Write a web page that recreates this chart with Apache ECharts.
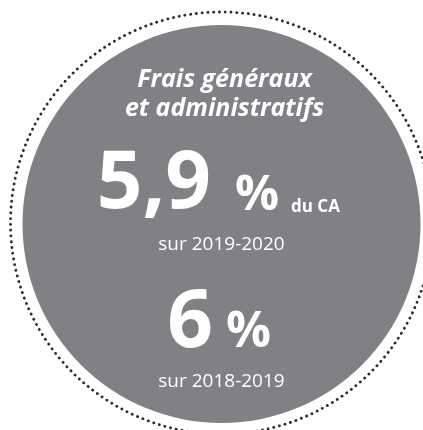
<!DOCTYPE html>
<html>
<head>
<meta charset="utf-8">
<script src="https://cdn.jsdelivr.net/npm/echarts@6/dist/echarts.min.js"></script>
<style>
  html, body { margin: 0; padding: 0; background: #fff; }
  #main { width: 423px; height: 430px; }
</style>
</head>
<body>
<div id="main"></div>
<script>
// données de la pastille
var titleLines = ['Frais généraux', 'et administratifs'];
var ratios = [5.9, 6];              // % du CA
var periods = ['2019-2020', '2018-2019'];
var unitLabel = 'du CA';

var chart = echarts.init(document.getElementById('main'));

function fmt(v) {
  return String(v).replace('.', ',');
}

var font = '"Open Sans", "Noto Sans", sans-serif';
var cx = 221.5, cy = 224;

// texte blanc au-dessus du disque
function txt(x, y, text, f, align) {
  return {
    type: 'text', x: x, y: y, z: 100,
    style: { text: text, fill: '#fff', font: f, textAlign: align || 'center', textVerticalAlign: 'middle' }
  };
}

var option = {
  animation: false,
  series: [
    {
      // disque gris
      type: 'pie',
      silent: true,
      z: 1,
      center: [cx, cy],
      radius: [0, 199],
      label: { show: false },
      labelLine: { show: false },
      itemStyle: { color: '#808185' },
      data: [{ value: 1 }]
    }
  ],
  graphic: [
    {
      type: 'circle',
      silent: true,
      shape: { cx: cx, cy: cy - 1, r: 211 },
      style: { fill: null, stroke: '#2a2a2a', lineWidth: 2.8, lineDash: [0.1, 5.7], lineCap: 'round' }
    },
    txt(cx + 3, 80, titleLines[0], 'italic bold 25px ' + font),
    txt(cx + 3, 109, titleLines[1], 'italic bold 25px ' + font),
    txt(211, 185, fmt(ratios[0]), 'bold 80px ' + font, 'right'),
    txt(235, 196, '%', 'bold 49px ' + font, 'left'),
    txt(291, 207, unitLabel, 'bold 17px ' + font, 'left'),
    txt(cx, 245, 'sur ' + periods[0], '19px ' + font),
    txt(213, 324, fmt(ratios[1]), 'bold 80px ' + font, 'right'),
    txt(226, 333, '%', 'bold 50px ' + font, 'left'),
    txt(cx, 382, 'sur ' + periods[1], '19px ' + font)
  ]
};

chart.setOption(option);
</script>
</body>
</html>
